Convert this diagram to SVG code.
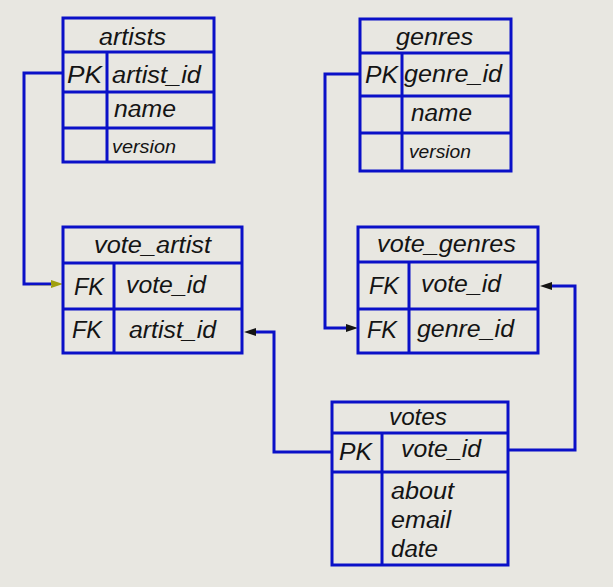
<svg xmlns="http://www.w3.org/2000/svg" width="613" height="587" viewBox="0 0 613 587">
<style>
.b{fill:none;stroke:#0a10c8;stroke-width:3}
.c{fill:none;stroke:#0a10c8;stroke-width:3}
text{font-family:"Liberation Sans",Arial,sans-serif;font-style:italic;font-size:23px;fill:#141414}
.s{font-size:19px}
</style>
<rect width="613" height="587" fill="#e8e7e1"/>
<g id="connectors">
<polyline class="c" points="63,73 24,73 24,284 52,284"/>
<polygon points="63,284 51,280 51,288" fill="#a0a010"/>
<line x1="30" y1="285.5" x2="52" y2="285.5" stroke="#9090a0" stroke-width="1"/>
<polyline class="c" points="360,74 325,74 325,328 348,328"/>
<polygon points="358,328 346,324 346,332" fill="#141414"/>
<polyline class="c" points="332,452 274,452 274,332 254,332"/>
<polygon points="244,332 256,328 256,336" fill="#141414"/>
<polyline class="c" points="508,450 575,450 575,286 550,286"/>
<polygon points="540,286 552,282 552,290" fill="#141414"/>
</g>
<g id="artists">
<rect class="b" x="63" y="18" width="151" height="144"/>
<path class="b" d="M63,52H214M63,92H214M63,128H214M107,52V162"/>
<text x="99" y="45" textLength="67" lengthAdjust="spacingAndGlyphs">artists</text>
<text x="67" y="83" textLength="35" lengthAdjust="spacingAndGlyphs">PK</text>
<text x="112" y="83" textLength="89" lengthAdjust="spacingAndGlyphs">artist_id</text>
<text x="114" y="117" textLength="62" lengthAdjust="spacingAndGlyphs">name</text>
<text class="s" x="112" y="153" textLength="64" lengthAdjust="spacingAndGlyphs">version</text>
</g>
<g id="genres">
<rect class="b" x="360" y="19" width="151" height="152"/>
<path class="b" d="M360,53H511M360,96H511M360,133H511M402,53V171"/>
<text x="396" y="45" textLength="77" lengthAdjust="spacingAndGlyphs">genres</text>
<text x="365" y="83" textLength="33" lengthAdjust="spacingAndGlyphs">PK</text>
<text x="404" y="82" textLength="98" lengthAdjust="spacingAndGlyphs">genre_id</text>
<text x="411" y="121" textLength="61" lengthAdjust="spacingAndGlyphs">name</text>
<text class="s" x="409" y="158" textLength="62" lengthAdjust="spacingAndGlyphs">version</text>
</g>
<g id="vote_artist">
<rect class="b" x="63" y="227" width="179" height="126"/>
<path class="b" d="M63,263H242M63,309H242M114,263V353"/>
<text x="94" y="253" textLength="117" lengthAdjust="spacingAndGlyphs">vote_artist</text>
<text x="74" y="295" textLength="30" lengthAdjust="spacingAndGlyphs">FK</text>
<text x="126" y="293" textLength="80" lengthAdjust="spacingAndGlyphs">vote_id</text>
<text x="72" y="338" textLength="30" lengthAdjust="spacingAndGlyphs">FK</text>
<text x="129" y="338" textLength="87" lengthAdjust="spacingAndGlyphs">artist_id</text>
</g>
<g id="vote_genres">
<rect class="b" x="358" y="227" width="180" height="126"/>
<path class="b" d="M358,262H538M358,309H538M409,262V353"/>
<text x="377" y="252" textLength="139" lengthAdjust="spacingAndGlyphs">vote_genres</text>
<text x="369" y="294" textLength="30" lengthAdjust="spacingAndGlyphs">FK</text>
<text x="421" y="292" textLength="80" lengthAdjust="spacingAndGlyphs">vote_id</text>
<text x="367" y="338" textLength="30" lengthAdjust="spacingAndGlyphs">FK</text>
<text x="417" y="337" textLength="97" lengthAdjust="spacingAndGlyphs">genre_id</text>
</g>
<g id="votes">
<rect class="b" x="332" y="402" width="176" height="163"/>
<path class="b" d="M332,433H508M332,472H508M382,433V565"/>
<text x="389" y="425" textLength="58" lengthAdjust="spacingAndGlyphs">votes</text>
<text x="339" y="460" textLength="33" lengthAdjust="spacingAndGlyphs">PK</text>
<text x="401" y="457" textLength="80" lengthAdjust="spacingAndGlyphs">vote_id</text>
<text x="391" y="499" textLength="63" lengthAdjust="spacingAndGlyphs">about</text>
<text x="391" y="528" textLength="60" lengthAdjust="spacingAndGlyphs">email</text>
<text x="391" y="557" textLength="47" lengthAdjust="spacingAndGlyphs">date</text>
</g>
</svg>
